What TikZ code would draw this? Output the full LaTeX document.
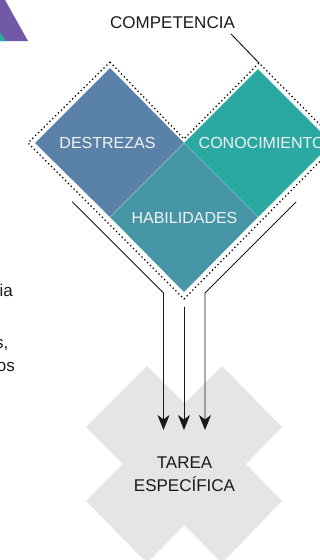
\documentclass[tikz,border=0pt]{standalone}
\usepackage{fontspec}
\setmainfont{Liberation Sans}
\usetikzlibrary{arrows.meta}
\definecolor{destc}{HTML}{5A81A8}
\definecolor{conoc}{HTML}{2AA9A2}
\definecolor{habic}{HTML}{4796A8}
\definecolor{crossc}{HTML}{E4E5E7}
\definecolor{purp}{HTML}{7159A8}
\tikzset{
  lab/.style={font=\fontsize{16}{19}\selectfont,text=white!95!black,inner sep=0pt},
  dark/.style={font=\fontsize{17}{22.6}\selectfont,text=black!90,inner sep=0pt,align=center},
  dots/.style={line width=1.25pt,dash pattern=on 1.3pt off 2.7pt,black},
  wire/.style={line width=0.95pt,black!90,line cap=round},
  flow/.style={wire,-{Stealth[length=15pt,width=12pt,inset=4.5pt]}},
  seam/.style={line width=0.35pt,white,opacity=0.5},
}
\begin{document}
\begin{tikzpicture}[x=1pt,y=-1pt]
\useasboundingbox (0,0) rectangle (320,560);
\clip (0,0) rectangle (320,560);
% corner triangle
\fill[purp] (5,0) -- (28,41) -- (0,41) -- (0,0) -- cycle;
\fill[conoc] (0,32) -- (6,41) -- (0,41) -- cycle;
% cross
\fill[crossc] (147,366) -- (184.5,403) -- (222,366) -- (282,427) -- (246,464) -- (282,501) -- (222,563) -- (184.5,525) -- (147,563) -- (86,501) -- (123,464) -- (86,427) -- cycle;
% diamonds
\fill[destc] (110,68) -- (184,143) -- (110,217) -- (35,143) -- cycle;
\fill[conoc] (258,69) -- (332,143) -- (258,217) -- (184,143) -- cycle;
\fill[habic] (184,143) -- (258,217) -- (184,292) -- (110,217) -- cycle;
\draw[seam] (110,217) -- (184,143) -- (258,217);
% dotted outline
\draw[dots] (110,62) -- (184,139) -- (259,63) -- (338,143) -- (184,299) -- (28,143) -- cycle;
% texts
\node[dark] (comp) at (172.5,23) {COMPETENCIA};
\node[lab] (dest) at (107.5,143) {DESTREZAS};
\node[lab,anchor=west] (cono) at (198.5,143) {CONOCIMIENTO};
\node[lab] (habi) at (184.5,218) {HABILIDADES};
\node[dark] (tarea) at (184.5,474.5) {TAREA\\ESPECÍFICA};
\node[dark,anchor=base east] (t1) at (13,296.5) {ia};
\node[dark,anchor=base east] (t2) at (8.5,348) {s,};
\node[dark,anchor=base east] (t3) at (15,371) {os};
% connectors
\coordinate (cs) at (231,34);
\coordinate (ce) at (259,63);
\draw[wire] (cs) -- (ce);
\coordinate (l0) at (72.5,202);
\coordinate (l1) at (163.5,293);
\coordinate (lt) at (163.5,430);
\draw[flow] (l0) -- (l1) -- (lt);
\coordinate (r0) at (296,202);
\coordinate (r1) at (205,293);
\coordinate (rt) at (205,430);
\draw[flow] (r0) -- (r1) -- (rt);
\coordinate (m0) at (184,307);
\coordinate (mt) at (184,430);
\draw[flow] (m0) -- (mt);
\end{tikzpicture}
\end{document}
